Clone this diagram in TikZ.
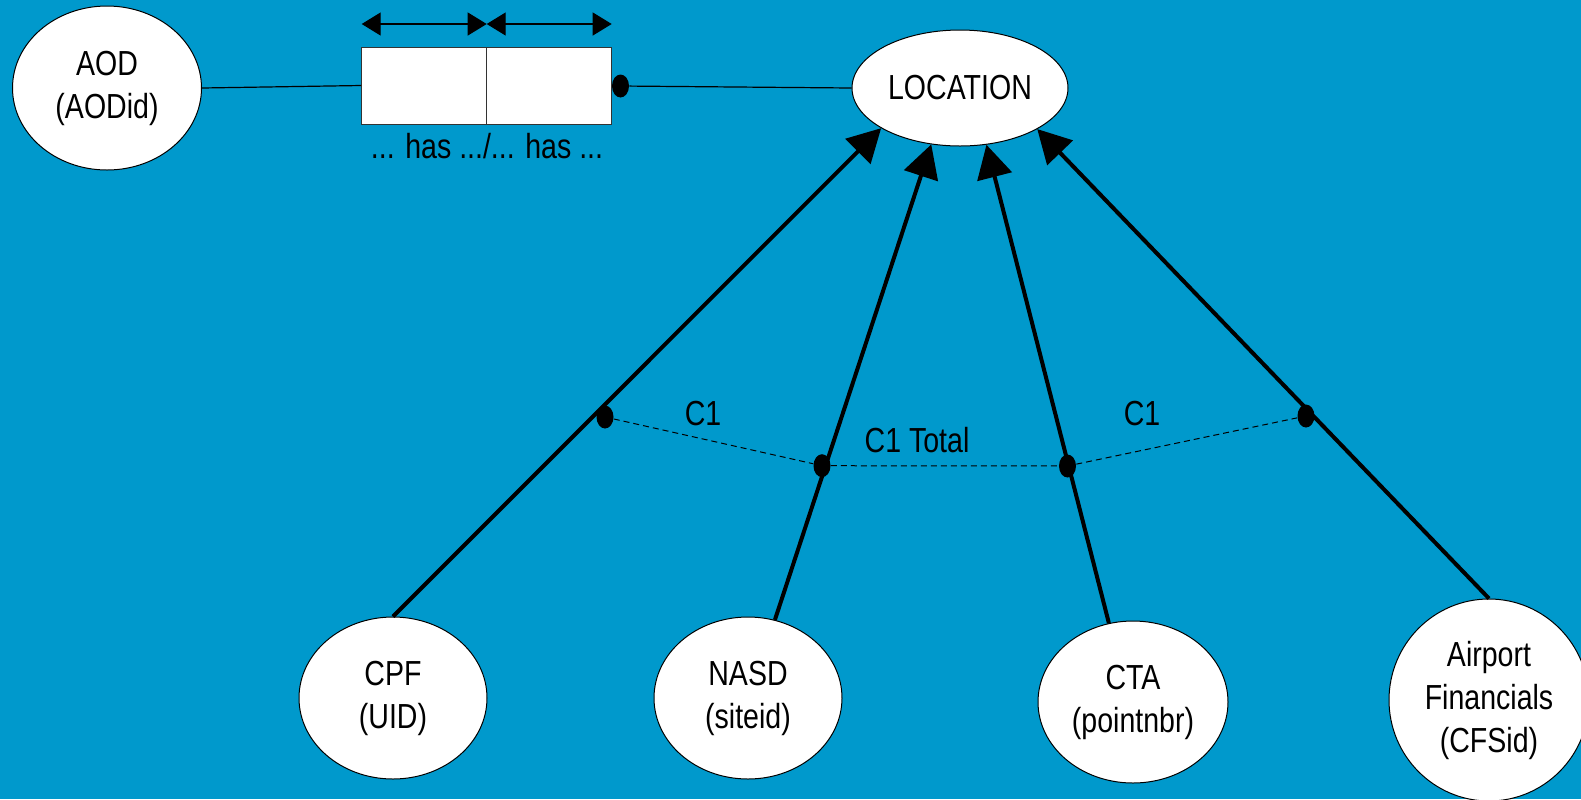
\documentclass[tikz,border=0pt]{standalone}
\usepackage{fontspec}
\setmainfont{Liberation Sans}[FakeStretch=0.82]
\usetikzlibrary{shapes.geometric,arrows.meta}
\definecolor{bg}{RGB}{0,153,204}
\begin{document}
\begin{tikzpicture}[x=0.5pt,y=-0.5pt,
  txt/.style={font=\fontsize{17.4}{21.5}\selectfont},
  ent/.style={ellipse, draw=black, line width=0.5pt, fill=white, inner sep=0pt, align=center, txt},
  lbl/.style={txt, inner sep=0pt},
  cell/.style={rectangle, draw=black!80, fill=white, line width=0.5pt, inner sep=0pt, minimum width=62.5pt, minimum height=38.5pt},
  jdot/.style={ellipse, fill=black, inner sep=0pt, minimum width=8.5pt, minimum height=11.5pt},
  rel/.style={line width=2pt, -{Triangle[length=16.5pt,width=17.5pt]}},
  thinline/.style={line width=0.6pt},
  dimarrow/.style={line width=0.6pt, {Triangle[length=9.5pt,width=11.5pt]}-{Triangle[length=9.5pt,width=11.5pt]}},
  constraint/.style={line width=0.5pt, dash pattern=on 3pt off 2pt}]
\useasboundingbox (0,0) rectangle (1581,799);
\fill[bg] (0,0) rectangle (1581,799);
\clip (0,0) rectangle (1581,799);

% entities
\node[ent, minimum width=94.5pt, minimum height=82pt] (aod) at (107,88) {AOD\\(AODid)};
\node[ent, minimum width=108pt, minimum height=58pt] (loc) at (960,88) {LOCATION};
\node[ent, minimum width=94pt, minimum height=81pt] (cpf) at (393,698) {CPF\\(UID)};
\node[ent, minimum width=94pt, minimum height=81pt] (nasd) at (748,698) {NASD\\(siteid)};
\node[ent, minimum width=95pt, minimum height=81pt] (cta) at (1133,702) {CTA\\(pointnbr)};
\node[ent, minimum width=100pt, minimum height=101pt] (apf) at (1489,700) {Airport\\Financials\\(CFSid)};

% fact type box
\node[cell] (bl) at (424.2,85.5) {};
\node[cell] (br) at (549.2,85.5) {};
\node[lbl] (has) at (487,146) {... has .../... has ...};
\coordinate (t1) at (361.7,24);
\coordinate (t2) at (486.7,24);
\coordinate (t3) at (611.7,24);
\draw[dimarrow] (t1) -- (t2);
\draw[dimarrow] (t2) -- (t3);
\node[jdot] (bd) at (620.5,86) {};
\draw[thinline] (aod.east) -- (bl.west);
\draw[thinline] (bd) -- (loc.west);

% subtype arrows
\draw[rel] (cpf.north) -- (loc.207.2);
\draw[rel] (nasd.71.3) -- (loc.243.6);
\draw[rel] (cta.107.4) -- (loc.295.4);
\draw[rel] (apf.north) -- (loc.332.9);

% constraint
\node[jdot] (d1) at (605,417) {};
\node[jdot] (d2) at (822,465.7) {};
\node[jdot] (d3) at (1067.5,466) {};
\node[jdot] (d4) at (1306,416) {};
\draw[constraint] (d1) -- (d2) -- (d3) -- (d4);
\node[lbl] (c1a) at (703,414) {C1};
\node[lbl] (c1t) at (917,440) {C1 Total};
\node[lbl] (c1b) at (1142,414) {C1};
\end{tikzpicture}
\end{document}
